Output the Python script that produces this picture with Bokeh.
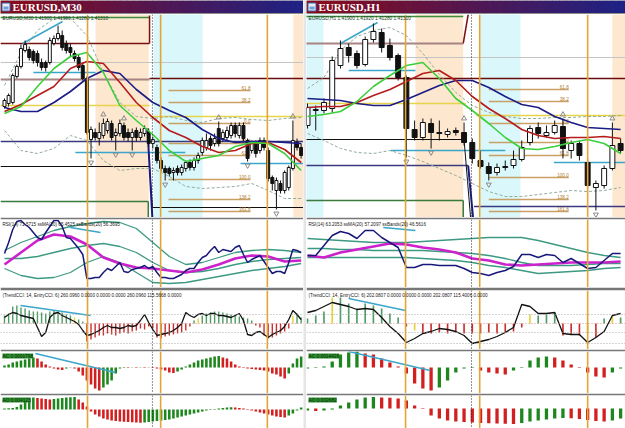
from bokeh.plotting import figure
from bokeh.layouts import column, row
from bokeh.models import Range1d, Span, Label
from bokeh.core.properties import value
from bokeh.embed import file_html
from bokeh.resources import INLINE

FONT = "Liberation Sans"

# ======================= LEFT CHART: EURUSD M30 =======================
# prices are in pips above 1.4100, x is the bar number
L_TITLE = "EURUSD,M30"
L_LEGEND = "EURUSD,M30  1.41900 1.41990 1.41280 1.41310"
L_RSI_TEXT = "RSI(14) 71.5715  ssMA(20) 65.4525  ssBands(20) 56.3695"
L_CCI_TEXT = "(TrendCCI: 14, EntryCCI: 6)  260.0960 0.0000 0.0000 0.0000 260.0960 115.5668 0.0000"
L_AC_TEXT = "AC 0.0001798"
L_AO_TEXT = "AO 0.004123"

L_OPEN = [111, 114, 115, 141, 151, 167, 168, 166, 164, 155, 155, 155, 174, 179, 182, 174, 170, 164, 160, 152,
          139, 78, 85, 79, 82, 87, 94, 82, 84, 92, 85, 80, 87, 80, 84, 85, 74, 70, 57, 49,
          49, 45, 49, 45, 49, 55, 50, 57, 65, 70, 79, 74, 89, 79, 80, 82, 92, 82, 92, 77,
          67, 74, 67, 77, 67, 40, 27, 34, 27, 30, 49, 75, 70]
L_CLOSE = [117, 122, 142, 151, 169, 173, 160, 157, 155, 150, 150, 177, 179, 184, 170, 167, 165, 159, 150, 139,
           85, 88, 80, 85, 94, 96, 80, 85, 94, 80, 80, 85, 80, 85, 89, 74, 78, 57, 49, 45,
           44, 47, 45, 50, 55, 50, 57, 62, 77, 77, 72, 79, 74, 85, 87, 92, 84, 92, 79, 59,
           74, 64, 77, 70, 39, 34, 37, 27, 45, 50, 77, 70, 62]
L_HIGH = [119, 124, 144, 153, 173, 177, 171, 168, 167, 159, 157, 180, 182, 192, 187, 177, 174, 167, 163, 155,
          141, 91, 89, 95, 99, 99, 97, 89, 98, 95, 89, 89, 90, 89, 92, 89, 81, 73, 60, 52,
          51, 50, 52, 53, 57, 58, 60, 65, 80, 84, 82, 84, 96, 88, 91, 95, 95, 95, 95, 79,
          77, 77, 80, 80, 70, 42, 40, 37, 47, 52, 97, 79, 74]
L_LOW = [109, 111, 113, 139, 149, 165, 157, 154, 151, 147, 146, 153, 172, 177, 167, 164, 161, 156, 147, 137,
         83, 59, 77, 72, 79, 84, 77, 67, 81, 77, 76, 67, 76, 77, 81, 71, 69, 54, 46, 37,
         41, 37, 42, 42, 46, 47, 47, 54, 62, 67, 67, 71, 71, 76, 77, 79, 80, 79, 76, 56,
         64, 60, 64, 67, 36, 27, 8, 24, 24, 27, 47, 67, 59]

# moving averages / bands sampled every 4 bars
L_MA_X = [0, 4, 8, 12, 16, 20, 24, 28, 32, 36, 40, 44, 48, 52, 56, 60, 64, 68, 72]
L_MA_FAST = [104, 111, 131, 149, 161, 165, 145, 112, 97, 83, 67, 56, 59, 62, 71, 75, 74, 64, 47]
L_MA_MID = [106, 113, 122, 131, 149, 156, 154, 135, 115, 100, 87, 80, 71, 65, 67, 74, 75, 68, 55]
L_MA_SLOW = [110, 106, 106, 115, 126, 139, 147, 144, 128, 115, 107, 100, 88, 79, 75, 76, 76, 75, 74]
L_BAND_UP = [132, 165, 187, 199, 199, 182, 145, 115, 101, 99, 101, 97, 95, 99, 100, 98, 97, 99, 100]
L_BAND_LO = [87, 67, 64, 69, 82, 77, 57, 47, 49, 49, 41, 31, 29, 30, 31, 34, 27, 19, 19]

# drawn objects: start bar, end bar, start price, end price, kind
L_OBJ_T0 = [-1, 35.2, -1, -1, -1, 35.2, -1, 35.2, -1, 7.0, 17.2, 57.3, 4.4, -1, 35.2, 35.9, -1, 34.9, 34.7]
L_OBJ_T1 = [35.2, 35.2, 35.2, 73, 35.2, 73, 35.2, 73, 73, 22.1, 43.9, 73, 14.1, 35.2, 35.9, 73, 34.9, 34.9, 35.9]
L_OBJ_P0 = [200, 202, 174, 155, 138, 139, 112, 101, 76, 145, 65, 54, 174, 51, 51, 10, 16, 16, 89]
L_OBJ_P1 = [200, 174, 174, 155, 138, 139, 112, 101, 76, 145, 65, 54, 196, 51, 10, 10, 16, -1, -1]
L_OBJ_KIND = ["box_top", "box_side", "box_side", "grid", "resist_old", "resist", "pivot", "pivot", "support",
              "trend", "trend", "trend", "trend", "low", "low", "low", "box_bottom", "box_bottom", "plunge"]

L_ZONE_T0 = [22.1, 36.2, 70.1]
L_ZONE_T1 = [35.0, 48.1, 73.0]
L_ZONE_KIND = ["europe", "asia", "europe"]

L_FIB_LABEL = ["61.8", "38.2", "0.0", "50.0", "61.8", "100.0", "138.2", "161.8"]
L_FIB_PRICE = [127, 115, 94, 74, 62, 38, 18, 6]
L_FIB_T0 = 39.8
L_FIB_T1 = 59.7

L_FRACTAL_UP = [24, 29, 52, 70]
L_FRACTAL_DN = [21, 27, 31, 39, 59, 66]
L_VLINES = [20.15, 37.9, 63.8]
L_DOTTED = [35.9]

L_RSI = [47, 58, 71, 79, 80, 76, 73, 68, 63, 61, 68, 74, 80, 80, 74, 63, 62, 57, 52, 46,
         22, 22, 23, 23, 28, 32, 30, 34, 38, 29, 28, 31, 32, 33, 35, 32, 34, 28, 23, 23,
         22, 22, 24, 26, 30, 32, 32, 38, 43, 45, 50, 54, 48, 51, 50, 49, 53, 55, 46, 38,
         41, 43, 45, 39, 33, 27, 29, 29, 27, 38, 51, 50, 48]
L_RSI_MA = [36, 48, 60, 66, 64, 56, 43, 37, 33, 32, 30, 28, 31, 36, 42, 45, 44, 39, 40]
L_RSI_BB_UP = [50, 58, 64, 70, 74, 77, 79, 78, 72, 58, 44, 36, 38, 43, 48, 50, 51, 50, 48]
L_RSI_BB_MID = [42, 42, 44, 48, 52, 55, 57, 54, 48, 38, 30, 28, 29, 32, 36, 39, 41, 42, 43]
L_RSI_BB_LO = [32, 25, 22, 23, 28, 38, 44, 38, 28, 18, 17, 18, 21, 24, 27, 30, 32, 34, 37]
L_RSI_DIV = [(16.0, 73), (23.3, 68)]

L_CCI = [6, 9, 11, 10, 8, 7, 6, 5, -4, -13, -9, 6, 10, 11, 8, 6, 4, 2, -1, -7,
         -12, -11, -9, -7, -4, -2, -4, -4, -5, -4, -2, -3, -2, 3, 9, 1, -6, -12, -11, -10,
         -9, -7, -4, 0, 11, 8, 6, 9, 10, 8, 10, 10, 8, 8, 7, 6, 8, 10, 3, -11,
         -12, -9, -8, -11, -14, -11, -9, -7, -3, 4, 13, 9, 4]
L_CCI_HIST = [8, 10, 17, 18, 16, 15, 13, 12, 12, 11, 10, 12, 13, 12, 11, 9, 8, 6, 4, 2,
              -18, -16, -14, -12, -12, -10, -11, -12, -10, -9, -10, -8, -7, -5, -6, -3, -5, -14, -15, -13,
              -12, -11, -10, -9, -7, -3, 3, 5, 8, 10, 11, 12, 12, 11, 10, 9, 8, 7, 6, 5,
              3, -2, -4, -12, -15, -14, -12, -10, -8, -5, 8, 10, 6]
L_CCI_YELLOW = [17, 47, 70]
L_CCI_DIV = [(3.9, 18), (20.9, 8)]

L_AC = [2, 3, 5, 6, 7, 8, 9, 10, 9, 6, 3, 1, -1, -2, -2.5, -1, 0.3, -1, -4, -8,
        -13, -17, -21, -23, -20, -17, -13, -6, -1, -0.4, -0.6, -0.3, -0.6, -0.3, -0.6, -0.3, -0.6, -1, -2, -3,
        -5, -5.5, -4, -2, 1, 3, 5, 7, 8, 9, 10, 11, 11.5, 10, 9, 6, 3, 1, 0.4, -1,
        -1.5, -2, -2.5, -3, -4, -6, -7, -9, -11, -6, 4, 9, 11]
L_AC_DIV = [(7.5, 14), (26.9, -5)]
L_AO = [1, 1.2, 1.5, 2.5, 5, 8, 10, 12, 11.5, 11, 10.5, 10, 10.5, 11, 11.5, 12, 12.3, 12.5, 10, 7,
        3, -2, -5, -7, -9, -10, -11, -11.5, -12, -12.3, -12.6, -12.8, -13, -13.2, -13, -12.5, -12, -11.5, -11, -10.5,
        -10, -9, -8, -7, -6, -5, -4, -3, -2, -1, 0.4, 0.6, 1, 1.5, 2, 2.2, 2, 1.5, 1, 0.4,
        -1, -2, -3, -4, -5, -6, -7, -7.5, -8, -6, -4, -1, 2]

# ======================= RIGHT CHART: EURUSD H1 =======================
R_TITLE = "EURUSD,H1"
R_LEGEND = "EURUSD,H1  1.41900 1.41920 1.41280 1.41310"
R_RSI_TEXT = "RSI(14) 63.2053  ssMA(20) 57.2097  ssBands(20) 46.5616"
R_CCI_TEXT = "(TrendCCI: 14, EntryCCI: 6)  202.0807 0.0000 0.0000 0.0000 202.0807 115.4006 0.0000"
R_AC_TEXT = "AC 0.0014416"
R_AO_TEXT = "AO 0.002682"

R_OPEN = [92, 107, 107, 109, 152, 170, 164, 153, 178, 185, 172, 162, 140, 88, 80, 94, 85, 83, 87, 85,
          75, 57, 51, 45, 50, 52, 58, 75, 90, 82, 85, 91, 67, 74, 55, 30, 32, 49, 74]
R_CLOSE = [110, 108, 115, 157, 169, 162, 152, 178, 186, 170, 160, 140, 89, 80, 95, 85, 84, 86, 85, 75,
           59, 51, 44, 50, 51, 58, 70, 89, 84, 85, 92, 69, 74, 62, 32, 34, 49, 72, 67]
R_HIGH = [114, 112, 119, 161, 177, 174, 167, 181, 194, 189, 179, 164, 142, 97, 99, 99, 97, 89, 90, 95,
          79, 67, 55, 54, 57, 67, 77, 92, 95, 92, 97, 99, 77, 77, 59, 37, 52, 95, 79]
R_LOW = [89, 87, 104, 105, 149, 155, 149, 151, 175, 165, 157, 137, 60, 77, 77, 69, 77, 80, 82, 72,
         54, 49, 37, 42, 47, 49, 56, 72, 79, 80, 83, 59, 59, 57, 29, 7, 29, 47, 64]

R_MA_X = [0, 2, 4, 6, 8, 10, 12, 14, 16, 18, 20, 22, 24, 26, 28, 30, 32, 34, 36, 38]
R_MA_FAST = [101, 103, 106, 116, 131, 142, 152, 155, 139, 119, 107, 94, 80, 69, 68, 71, 75, 78, 74, 64]
R_MA_MID = [110, 111, 111, 115, 122, 128, 136, 144, 147, 137, 121, 109, 99, 88, 82, 79, 80, 80, 81, 79]
R_MA_SLOW = [119, 118, 117, 114, 112, 112, 118, 125, 132, 137, 137, 130, 121, 113, 110, 101, 95, 90, 89, 88]
R_BAND_UP = [129, 140, 167, 181, 187, 190, 182, 164, 143, 125, 112, 105, 101, 99, 99, 100, 100, 101, 101, 102]
R_BAND_LO = [84, 77, 69, 65, 64, 67, 62, 56, 49, 42, 34, 26, 21, 21, 23, 25, 27, 26, 27, 30]

R_OBJ_T0 = [-0.2, 18.9, -0.2, -0.2, -0.2, -0.2, 20.5, -0.2, 19.0, -0.2, 19.5, -0.2, 18.9, 20.2, 10.1, 29.9, 5.0, 4.0]
R_OBJ_T1 = [18.9, 19.5, 18.9, 38.6, 38.6, 19.2, 38.6, 19.0, 19.8, 19.5, 20.1, 18.9, 18.9, 38.6, 24.0, 38.6, 13.1, 8.5]
R_OBJ_P0 = [201, 174, 174, 160, 139, 114, 102, 78, 78, 52, 52, 17, 17, 11, 67, 55, 147, 174]
R_OBJ_P1 = [201, 203, 174, 160, 139, 114, 102, 78, -1, 52, -1, 17, -1, 11, 67, 55, 147, 195]
R_OBJ_KIND = ["box_top", "box_side", "resist_old", "grid", "resist", "pivot", "pivot", "low", "low",
              "support", "plunge", "box_bottom", "box_bottom", "support", "trend", "trend", "trend", "trend"]

R_ZONE_T0 = [-0.2, 13.1, 21.0, 37.0]
R_ZONE_T1 = [1.94, 18.9, 25.85, 38.7]
R_ZONE_KIND = ["asia", "europe", "asia", "europe"]

R_FIB_LABEL = ["61.8", "38.2", "0.0", "50.0", "61.8", "100.0", "138.2", "161.8"]
R_FIB_PRICE = [128, 116, 94, 75, 62, 40, 18, 6]
R_FIB_T0 = 22.0
R_FIB_T1 = 31.7

R_FRACTAL_UP = [19, 31, 37]
R_FRACTAL_DN = [12, 15, 22, 35]
R_VLINES = [11.9, 20.9, 34.0]
R_DOTTED = [19.9]

R_RSI = [45, 45, 55, 65, 69, 67, 62, 70, 70, 63, 58, 53, 33, 33, 36, 36, 35, 35, 35, 32,
         28, 27, 25, 28, 30, 34, 46, 46, 43, 46, 45, 38, 42, 37, 32, 33, 40, 47, 47]
R_RSI_MA = [45, 43, 48, 51, 54, 57, 56, 53, 51, 48, 42, 40, 36, 35, 36, 37, 38, 38, 38, 39]
R_RSI_BB_UP = [62, 61, 60, 59, 58, 58, 58, 59, 60, 61, 62, 63, 63, 63, 60, 56, 52, 48, 45, 43]
R_RSI_BB_MID = [52, 52, 51, 51, 50, 50, 50, 50, 49, 48, 47, 45, 42, 38, 35, 35, 35, 36, 37, 37]
R_RSI_BB_LO = [43, 43, 43, 43, 43, 43, 43, 42, 41, 40, 38, 35, 33, 30, 27, 28, 29, 30, 32, 33]
R_RSI_DIV = [(9.2, 73), (13.1, 70)]

R_CCI = [11, 13, 17, 21, 19, 17, 14, 15, 14, 6, -3, -10, -19, -15, -10, -8, -5, -6, -8, -12,
         -20, -18, -16, -13, -9, -4, 19, 17, 10, 10, 11, -10, -11, -11, -19, -14, -8, 8, 10]
R_CCI_HIST = [5, 8, 12, 26, 26, 20, 15, 20, 18, 15, 10, 6, -3, -7, -10, -10, -9, -10, -9, -10,
              -10, -10, -9, -10, -9, -8, -4, 9, 8, 9, 11, -12, -11, -12, -10, -14, 5, 8, 6]
R_CCI_YELLOW = [3, 13, 27, 34, 37]
R_CCI_DIV = [(5.0, 25), (11.9, 13)]

R_AC = [-1, -0.5, 1, 6, 13, 15, 16, 14, 13, 9, 5, 1, -6, -16, -21, -23, -20, -13, -5, -1,
        -0.4, -3, -5, -6, -7, -3, -0.4, 7, 10, 11, 10, 7, 3, 0.4, -5, -9, -10, -5, -1]
R_AC_DIV = [(5.0, 16), (14.9, -3)]
R_AO = [-2, -2.5, -2, -1, 3, 6, 9, 11, 11.5, 11, 10.8, 10, 8, 3, 0.4, -7, -10, -12, -13, -13.5,
        -14, -14.5, -14.8, -15, -15.2, -15.4, -14.5, -13, -12, -11, -10, -9.5, -9.8, -10.5, -11.5, -12.5, -13, -12, -10]

CCI_LEVELS = [9, -9, -20]

# ======================= styles =======================
OBJ_STYLE = {
    "box_top": ("#3c8c3c", 1.5), "box_side": ("#7a1010", 1.5), "grid": ("#c4c4c4", 1),
    "resist_old": ("#a88484", 2), "resist": ("#6a0c0c", 1.5), "pivot": ("#e8d44a", 1.5),
    "support": ("#3a3a80", 1.5), "trend": ("#3aa6cc", 1.5), "low": ("#101010", 1),
    "box_bottom": ("#3a7a3a", 1.5), "plunge": ("#1a1a80", 2),
}
ZONE_COLOR = {"europe": "#fde7cf", "asia": "#daf7fb"}
ORANGE = "#e2a536"
SEP = "#777777"


def mkfig(w, h, xr, yr, top=0, border=SEP):
    p = figure(width=w, height=h, x_range=xr, y_range=yr, output_backend="svg",
               toolbar_location=None, x_axis_location=None, y_axis_location=None,
               min_border_left=0, min_border_right=0, min_border_bottom=0,
               min_border_top=top, title=None)
    p.grid.visible = False
    p.outline_line_color = None
    p.border_fill_color = border
    p.background_fill_color = "white"
    return p


def add_vlines(p, vl, dotted):
    for t in vl:
        p.add_layout(Span(location=t, dimension="height", line_color=ORANGE, line_width=1.6))
    for t in dotted:
        p.add_layout(Span(location=t, dimension="height", line_color="#222222",
                          line_width=1, line_dash="1 2"))


def small_label(p, x, y, text, color="#202020", size="4.6px", bg=None):
    kw = {}
    if bg:
        kw = dict(background_fill_color=bg, background_fill_alpha=1.0)
    p.add_layout(Label(x=x, y=y, text=text, text_font=FONT, text_font_size=size,
                       text_color=color, text_baseline="middle", **kw))


def gradient(c0, c1, n):
    out = []
    for k in range(n):
        t = k / (n - 1)
        out.append("#%02x%02x%02x" % tuple(round(a + (b - a) * t) for a, b in zip(c0, c1)))
    return out


def title_fig(w, text):
    p = mkfig(w, 14, Range1d(0, w), Range1d(0, 14))
    p.background_fill_color = "#8e8e8e"
    n = 48
    step = w / n
    p.quad(left=[k * step for k in range(n)], right=[(k + 1) * step + 0.6 for k in range(n)],
           bottom=1.5, top=14, fill_color=gradient((138, 10, 26), (30, 34, 132), n), line_color=None)
    p.quad(left=[1.5], right=[9.5], bottom=[3.5], top=[11.5], fill_color="#e6eefc", line_color="#3f62a6")
    p.quad(left=[3], right=[8], bottom=[5], top=[8], fill_color="#6f9fd8", line_color=None)
    p.add_layout(Label(x=12, y=7.4, text=text, text_font="Liberation Serif", text_font_style="bold",
                       text_font_size="11px", text_color="white", text_baseline="middle"))
    return p


def main_fig(w, xr, d):
    p = mkfig(w, 203, xr, Range1d(0, 203))
    for kind in ("europe", "asia"):
        l = [a for a, k in zip(d["z0"], d["zk"]) if k == kind]
        r = [b for b, k in zip(d["z1"], d["zk"]) if k == kind]
        p.quad(left=l, right=r, bottom=-50, top=300, fill_color=ZONE_COLOR[kind], line_color=None)
    add_vlines(p, d["vl"], d["dot"])
    for kind, (col, lw) in OBJ_STYLE.items():
        idx = [i for i, k in enumerate(d["ok"]) if k == kind]
        if idx:
            p.segment(x0=[d["o0"][i] for i in idx], x1=[d["o1"][i] for i in idx],
                      y0=[d["p0"][i] for i in idx], y1=[d["p1"][i] for i in idx],
                      line_color=col, line_width=lw)
    # fibonacci levels
    n = len(d["fp"])
    p.segment(x0=[d["f0"]] * n, x1=[d["f1"]] * n, y0=d["fp"], y1=d["fp"], line_color="#c9a064", line_width=1.5)
    p.text(x=[d["f1"]] * n, y=[v + 0.8 for v in d["fp"]], text=d["fl"], text_align="right",
           text_baseline="bottom", text_font=value(FONT), text_font_size="4.6px", text_color="#b07a2a")
    # bands
    p.line(d["mx"], d["bu"], line_color="#93ab9b", line_width=1, line_dash="3 2")
    p.line(d["mx"], d["bl"], line_color="#93ab9b", line_width=1, line_dash="3 2")
    # candles
    xs = list(range(len(d["o"])))
    p.segment(x0=xs, x1=xs, y0=d["l"], y1=d["h"], line_color="#111111", line_width=1)
    top = [max(a, b) for a, b in zip(d["o"], d["c"])]
    bot = [min(a, b) for a, b in zip(d["o"], d["c"])]
    bot = [b if t - b > 0.6 else t - 0.6 for t, b in zip(top, bot)]
    fill = ["white" if c > o else "#111111" for o, c in zip(d["o"], d["c"])]
    p.vbar(x=xs, width=d["bw"], top=top, bottom=bot, fill_color=fill, line_color="#111111", line_width=1)
    # moving averages
    p.line(d["mx"], d["slow"], line_color="#1c1c86", line_width=1.6)
    p.line(d["mx"], d["mid"], line_color="#b51c1c", line_width=1.6)
    p.line(d["mx"], d["fast"], line_color="#3ccf3c", line_width=1.6)
    # fractals
    p.scatter(d["fu"], [d["h"][i] + 4 for i in d["fu"]], marker="triangle", size=5,
              fill_color=None, line_color="#8a8a8a")
    p.scatter(d["fd"], [d["l"][i] - 4 for i in d["fd"]], marker="inverted_triangle", size=5,
              fill_color=None, line_color="#8a8a8a")
    small_label(p, d["x0"], 199.5, d["legend"], color="#1f3a1f", size="4.8px")
    return p


def rsi_fig(w, xr, d):
    p = mkfig(w, 70, xr, Range1d(13, 81), top=2)
    add_vlines(p, d["vl"], d["dot"])
    for key in ("bbu", "bbm", "bbl"):
        p.line(d["mx"], d[key], line_color="#3c9a82", line_width=1.3)
    p.line(d["mx"], d["rma"], line_color="#cc22cc", line_width=2.6)
    p.line(list(range(len(d["rsi"]))), d["rsi"], line_color="#18187a", line_width=1.5)
    (a, b), (c, e) = d["rdiv"]
    p.line([a, c], [b, e], line_color="#3aa6cc", line_width=1.5)
    small_label(p, d["x0"], 76, d["rtext"])
    return p


def cci_fig(w, xr, d):
    p = mkfig(w, 62, xr, Range1d(-26, 33), top=3)
    add_vlines(p, d["vl"], d["dot"])
    for lv in CCI_LEVELS:
        p.add_layout(Span(location=lv, dimension="width", line_color="#a8a8a8", line_width=1, line_dash="1 2"))
    p.add_layout(Span(location=0, dimension="width", line_color="#d89090", line_width=1, line_dash="1 2"))
    xs = list(range(len(d["hist"])))
    cols = ["#e3d23a" if i in d["yel"] else ("#4f9c66" if v >= 0 else "#c83030")
            for i, v in enumerate(d["hist"])]
    p.vbar(x=xs, width=d["hw"], top=[max(v, 0) for v in d["hist"]], bottom=[min(v, 0) for v in d["hist"]],
           fill_color=cols, line_color=None)
    p.line(list(range(len(d["cci"]))), d["cci"], line_color="#111111", line_width=1.3)
    (a, b), (c, e) = d["cdiv"]
    p.line([a, c], [b, e], line_color="#3aa6cc", line_width=1.5)
    small_label(p, d["x0"], 28, d["ctext"])
    return p


def osc_fig(w, h, xr, yr, vals, bw, label_y, text, vl, dot, x0, div=None):
    p = mkfig(w, h, xr, yr, top=2)
    add_vlines(p, vl, dot)
    xs = list(range(len(vals)))
    cols = ["#1d861d" if (i == 0 or v >= vals[i - 1]) else "#d21f1f" for i, v in enumerate(vals)]
    p.vbar(x=xs, width=bw, top=[max(v, 0) for v in vals], bottom=[min(v, 0) for v in vals],
           fill_color=cols, line_color=None)
    if div:
        (a, b), (c, e) = div
        p.line([a, c], [b, e], line_color="#3aa6cc", line_width=1.5)
    small_label(p, x0, label_y, text, color="#062a06", size="4.8px", bg="#2f8f2f")
    return p


def panel(w, xr, d):
    return column(
        title_fig(w, d["title"]),
        main_fig(w, xr, d),
        rsi_fig(w, xr, d),
        cci_fig(w, xr, d),
        osc_fig(w, 44, xr, Range1d(-26, 16), d["ac"], d["ow"], 11.5, d["actext"], d["vl"], d["dot"], d["x0"], d["adiv"]),
        osc_fig(w, 35, xr, d["aoyr"], d["ao"], d["ow"], d["aoly"], d["aotext"], d["vl"], d["dot"], d["x0"]),
        spacing=0,
    )


left = dict(title=L_TITLE, legend=L_LEGEND, o=L_OPEN, c=L_CLOSE, h=L_HIGH, l=L_LOW, bw=0.72,
            mx=L_MA_X, fast=L_MA_FAST, mid=L_MA_MID, slow=L_MA_SLOW, bu=L_BAND_UP, bl=L_BAND_LO,
            o0=L_OBJ_T0, o1=L_OBJ_T1, p0=L_OBJ_P0, p1=L_OBJ_P1, ok=L_OBJ_KIND,
            z0=L_ZONE_T0, z1=L_ZONE_T1, zk=L_ZONE_KIND,
            fl=L_FIB_LABEL, fp=L_FIB_PRICE, f0=L_FIB_T0, f1=L_FIB_T1,
            fu=L_FRACTAL_UP, fd=L_FRACTAL_DN, vl=L_VLINES, dot=L_DOTTED,
            rsi=L_RSI, rma=L_RSI_MA, bbu=L_RSI_BB_UP, bbm=L_RSI_BB_MID, bbl=L_RSI_BB_LO, rdiv=L_RSI_DIV,
            rtext=L_RSI_TEXT, cci=L_CCI, hist=L_CCI_HIST, yel=L_CCI_YELLOW, cdiv=L_CCI_DIV, ctext=L_CCI_TEXT,
            hw=0.34, ac=L_AC, ao=L_AO, ow=0.62, adiv=L_AC_DIV, actext=L_AC_TEXT, aotext=L_AO_TEXT,
            aoyr=Range1d(-19, 14), aoly=9.5, x0=-0.5)

right = dict(title=R_TITLE, legend=R_LEGEND, o=R_OPEN, c=R_CLOSE, h=R_HIGH, l=R_LOW, bw=0.6,
             mx=R_MA_X, fast=R_MA_FAST, mid=R_MA_MID, slow=R_MA_SLOW, bu=R_BAND_UP, bl=R_BAND_LO,
             o0=R_OBJ_T0, o1=R_OBJ_T1, p0=R_OBJ_P0, p1=R_OBJ_P1, ok=R_OBJ_KIND,
             z0=R_ZONE_T0, z1=R_ZONE_T1, zk=R_ZONE_KIND,
             fl=R_FIB_LABEL, fp=R_FIB_PRICE, f0=R_FIB_T0, f1=R_FIB_T1,
             fu=R_FRACTAL_UP, fd=R_FRACTAL_DN, vl=R_VLINES, dot=R_DOTTED,
             rsi=R_RSI, rma=R_RSI_MA, bbu=R_RSI_BB_UP, bbm=R_RSI_BB_MID, bbl=R_RSI_BB_LO, rdiv=R_RSI_DIV,
             rtext=R_RSI_TEXT, cci=R_CCI, hist=R_CCI_HIST, yel=R_CCI_YELLOW, cdiv=R_CCI_DIV, ctext=R_CCI_TEXT,
             hw=0.2, ac=R_AC, ao=R_AO, ow=0.4, adiv=R_AC_DIV, actext=R_AC_TEXT, aotext=R_AO_TEXT,
             aoyr=Range1d(-20, 13), aoly=8.5, x0=0.12)

LW, RW = 303, 319
left_xr = Range1d(-4 / 4.12, -4 / 4.12 + LW / 4.12)
right_xr = Range1d(-1 / 8.24, -1 / 8.24 + RW / 8.24)

gap = figure(width=3, height=428, x_range=Range1d(0, 1), y_range=Range1d(0, 1), output_backend="svg",
             toolbar_location=None, x_axis_location=None, y_axis_location=None,
             min_border_left=0, min_border_right=0, min_border_bottom=0, min_border_top=0, title=None)
gap.outline_line_color = None
gap.background_fill_color = "#e6e6e6"
gap.border_fill_color = "#e6e6e6"

page = row(panel(LW, left_xr, left), gap, panel(RW, right_xr, right), spacing=0)

open("out.html", "w").write(file_html(page, INLINE))
